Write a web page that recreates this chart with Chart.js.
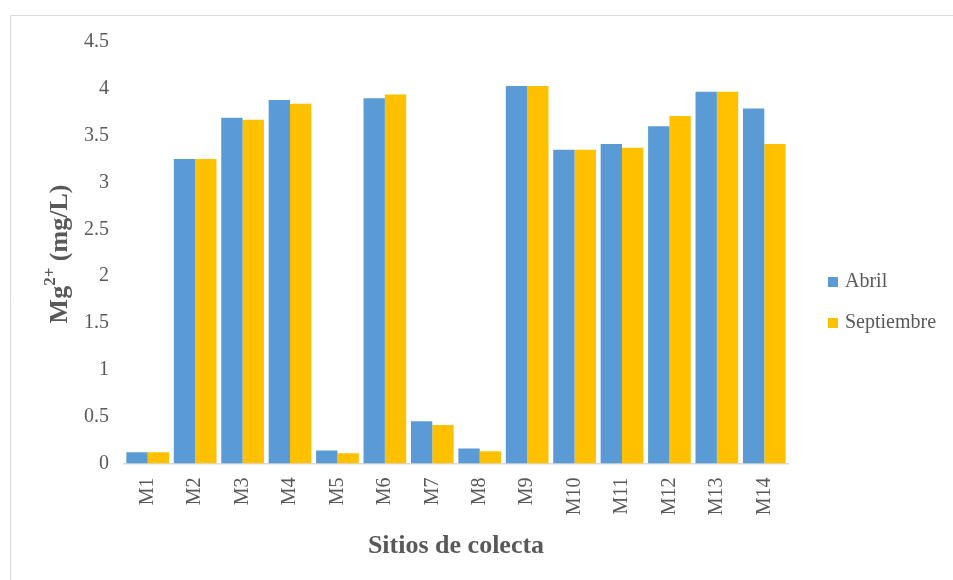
<!DOCTYPE html>
<html>
<head>
<meta charset="utf-8">
<script src="https://cdn.jsdelivr.net/npm/chart.js@4"></script>
<style>
  html, body { margin: 0; padding: 0; background: #ffffff; }
  #wrap { position: relative; width: 953px; height: 580px; }
</style>
</head>
<body>
<div id="wrap"><canvas id="chart" width="953" height="580"></canvas></div>
<script>
// Magnesium concentration per sampling site, two campaigns
const sitios = ['M1','M2','M3','M4','M5','M6','M7','M8','M9','M10','M11','M12','M13','M14'];
const abril = [0.12, 3.25, 3.69, 3.88, 0.14, 3.90, 0.45, 0.16, 4.03, 3.35, 3.41, 3.60, 3.97, 3.79];
const septiembre = [0.12, 3.25, 3.67, 3.84, 0.11, 3.94, 0.41, 0.13, 4.03, 3.35, 3.37, 3.71, 3.97, 3.41];
const seriesNames = ['Abril', 'Septiembre'];
const seriesColors = ['#5B9BD5', '#FFC000'];
const yMin = 0, yMax = 4.5, yStep = 0.5;

const TEXT = '#595959';
const SERIF = '"Liberation Serif", "Times New Roman", serif';

// Frame lines, axis titles and legend
const decorations = {
  id: 'decorations',
  beforeDraw(chart) {
    const ctx = chart.ctx;
    ctx.save();
    ctx.strokeStyle = '#d9d9d9';
    ctx.lineWidth = 1;
    ctx.beginPath();
    ctx.moveTo(10.5, 600);
    ctx.lineTo(10.5, 15.5);
    ctx.lineTo(960, 15.5);
    ctx.stroke();
    ctx.restore();
  },
  afterDraw(chart) {
    const ctx = chart.ctx;
    const area = chart.chartArea;
    ctx.save();
    ctx.fillStyle = TEXT;

    // x axis title
    ctx.font = 'bold 26px ' + SERIF;
    ctx.textAlign = 'center';
    ctx.textBaseline = 'middle';
    ctx.fillText('Sitios de colecta', (area.left + area.right) / 2, 546);

    // y axis title with superscript charge
    ctx.translate(58, 254);
    ctx.rotate(-Math.PI / 2);
    const big = 'bold 26px ' + SERIF;
    const small = 'bold 17px ' + SERIF;
    ctx.font = big;
    const w1 = ctx.measureText('Mg').width;
    const w3 = ctx.measureText(' (mg/L)').width;
    ctx.font = small;
    const w2 = ctx.measureText('2+').width;
    let x = -(w1 + w2 + w3) / 2;
    ctx.textAlign = 'left';
    ctx.textBaseline = 'alphabetic';
    ctx.font = big;
    ctx.fillText('Mg', x, 9);
    x += w1;
    ctx.font = small;
    ctx.fillText('2+', x, -3);
    x += w2;
    ctx.font = big;
    ctx.fillText(' (mg/L)', x, 9);
    ctx.restore();

    // legend
    ctx.save();
    ctx.font = '20px ' + SERIF;
    ctx.textAlign = 'left';
    ctx.textBaseline = 'middle';
    chart.data.datasets.forEach((ds, i) => {
      const cy = 282 + i * 41;
      ctx.fillStyle = ds.backgroundColor;
      ctx.fillRect(828, cy - 5, 10, 10);
      ctx.fillStyle = TEXT;
      ctx.fillText(ds.label, 845, cy);
    });
    ctx.restore();
  }
};

new Chart(document.getElementById('chart'), {
  type: 'bar',
  data: {
    labels: sitios,
    datasets: [
      { label: seriesNames[0], data: abril, backgroundColor: seriesColors[0] },
      { label: seriesNames[1], data: septiembre, backgroundColor: seriesColors[1] }
    ]
  },
  options: {
    responsive: false,
    animation: false,
    events: [],
    layout: { padding: { top: 42, right: 165, left: 0, bottom: 0 } },
    datasets: { bar: { categoryPercentage: 0.9, barPercentage: 1.0 } },
    plugins: { legend: { display: false }, tooltip: { enabled: false } },
    scales: {
      x: {
        grid: { display: false, drawTicks: false },
        border: { display: true, color: '#d9d9d9', width: 1.5 },
        ticks: {
          minRotation: 90, maxRotation: 90, padding: 14,
          color: TEXT, font: { family: SERIF, size: 20 }
        },
        afterFit(scale) { scale.height = 116.5; }
      },
      y: {
        min: yMin, max: yMax,
        grid: { display: false, drawTicks: false },
        border: { display: false },
        ticks: {
          stepSize: yStep, padding: 15,
          color: TEXT, font: { family: SERIF, size: 20 },
          callback: v => String(v)
        },
        afterFit(scale) { scale.width = 124; }
      }
    }
  },
  plugins: [decorations]
});
</script>
</body>
</html>
